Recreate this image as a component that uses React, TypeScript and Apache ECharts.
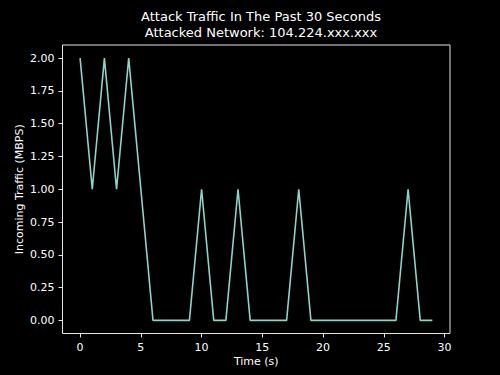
import React, { useEffect, useRef } from "react";
import * as echarts from "echarts";

const titleLines = ["Attack Traffic In The Past 30 Seconds", "Attacked Network: 104.224.xxx.xxx"];
const xLabel = "Time (s)";
const yLabel = "Incoming Traffic (MBPS)";
const times = [0, 1, 2, 3, 4, 5, 6, 7, 8, 9, 10, 11, 12, 13, 14, 15, 16, 17, 18, 19, 20, 21, 22, 23, 24, 25, 26, 27, 28, 29];
const traffic = [2, 1, 2, 1, 2, 1, 0, 0, 0, 0, 1, 0, 0, 1, 0, 0, 0, 0, 1, 0, 0, 0, 0, 0, 0, 0, 0, 1, 0, 0];
const xTicks = [0, 5, 10, 15, 20, 25, 30];
const yTicks = [0, 0.25, 0.5, 0.75, 1, 1.25, 1.5, 1.75, 2];

const FONT = "DejaVu Sans";

export default function App() {
  const ref = useRef<HTMLDivElement>(null);
  useEffect(() => {
    if (!ref.current) return;
    const chart = echarts.init(ref.current, null, { renderer: "svg" });
    const tickStyle = { show: true, inside: false, length: 4, lineStyle: { color: "#ffffff", width: 0.9 } };
    chart.setOption({
      animation: false,
      backgroundColor: "#000000",
      title: {
        text: titleLines.join("\n"),
        left: 256,
        top: 3,
        textAlign: "center",
        textStyle: { color: "#ffffff", fontFamily: FONT, fontSize: 13, fontWeight: "normal", lineHeight: 16 },
      },
      grid: {
        left: 62.5,
        right: 50,
        top: 45,
        bottom: 41.5,
        show: true,
        borderColor: "#ffffff",
        borderWidth: 0.9,
        backgroundColor: "transparent",
      },
      xAxis: {
        type: "value",
        min: -1.45,
        max: 30.45,
        name: xLabel,
        nameLocation: "middle",
        nameGap: 22,
        nameMoveOverlap: false,
        nameTextStyle: { color: "#ffffff", fontFamily: FONT, fontSize: 11 },
        axisLine: { show: false, onZero: false },
        splitLine: { show: false },
        axisTick: { ...tickStyle, customValues: xTicks },
        axisLabel: {
          customValues: xTicks,
          color: "#ffffff",
          fontFamily: FONT,
          fontSize: 11,
          margin: 8,
          formatter: (v: number) => String(v),
        },
      },
      yAxis: {
        type: "value",
        min: -0.1,
        max: 2.1,
        name: yLabel,
        nameLocation: "middle",
        nameGap: 38,
        nameMoveOverlap: false,
        nameTextStyle: { color: "#ffffff", fontFamily: FONT, fontSize: 11 },
        axisLine: { show: false, onZero: false },
        splitLine: { show: false },
        axisTick: { ...tickStyle, customValues: yTicks },
        axisLabel: {
          customValues: yTicks,
          color: "#ffffff",
          fontFamily: FONT,
          fontSize: 11,
          margin: 8,
          formatter: (v: number) => v.toFixed(2),
        },
      },
      series: [
        {
          type: "line",
          data: times.map((t, i) => [t, traffic[i]]),
          symbol: "none",
          lineStyle: { color: "#8dd3c7", width: 1.6 },
        },
      ],
    });
    return () => chart.dispose();
  }, []);
  return <div ref={ref} style={{ width: 500, height: 375, position: "absolute", left: 0, top: 0 }} />;
}
